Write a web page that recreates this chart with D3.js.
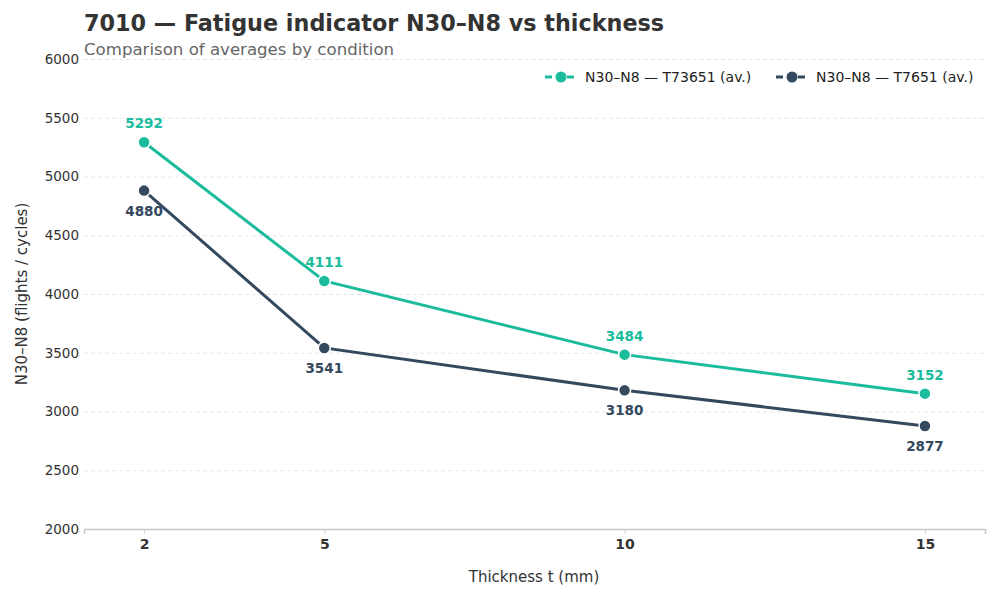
<!DOCTYPE html>
<html lang="en">
<head>
<meta charset="utf-8">
<title>7010 fatigue indicator</title>
<script src="https://d3js.org/d3.v7.min.js"></script>
<style>
  body { margin: 0; background: #fff; }
  svg text { font-family: "DejaVu Sans", sans-serif; }
  .grid line { stroke: #e6e6e6; stroke-dasharray: 4,3; }
  .grid .domain { display: none; }
  .yax text { font-size: 13.5px; fill: #333; }
  .xax text { font-size: 14px; font-weight: bold; fill: #333; }
  .line { fill: none; stroke-width: 3px; }
  .val { font-size: 13.5px; font-weight: bold; text-anchor: middle; }
  .legT { font-size: 14px; fill: #222; }
</style>
</head>
<body>
<div id="chart"></div>
<script>
var thickness = [2, 5, 10, 15];
var serieA = [5292, 4111, 3484, 3152];   // T73651
var serieB = [4880, 3541, 3180, 2877];   // T7651
var seriesNames = ['N30–N8 — T73651 (av.)', 'N30–N8 — T7651 (av.)'];
var yTicks = [2000, 2500, 3000, 3500, 4000, 4500, 5000, 5500, 6000];
var colors = ['#1abc9c', '#34495e'];

var W = 1000, H = 600;
var svg = d3.select('#chart').append('svg').attr('width', W).attr('height', H);

var x = d3.scaleLinear().domain([1, 16]).range([84, 985]);
var y = d3.scaleLinear().domain([2000, 6000]).range([529, 59]);

// grid
svg.append('g').attr('class', 'grid')
   .attr('transform', 'translate(84,0)')
   .call(d3.axisLeft(y).tickValues(yTicks).tickSize(-901).tickFormat(''));

// y axis labels
var ya = svg.append('g').attr('class', 'yax')
   .attr('transform', 'translate(84,0)')
   .call(d3.axisLeft(y).tickValues(yTicks).tickSize(0).tickPadding(5).tickFormat(d3.format('d')));
ya.select('.domain').remove();

// x axis
var xa = svg.append('g').attr('class', 'xax')
   .attr('transform', 'translate(0,529)')
   .call(d3.axisBottom(x).tickValues(thickness).tickSize(5).tickPadding(5).tickFormat(d3.format('d')));
xa.select('.domain').attr('stroke', '#c8c8c8').attr('stroke-width', 1.5);
xa.selectAll('.tick line').attr('stroke', '#d0d0d0');

// titles
svg.append('text').attr('x', 84).attr('y', 31)
   .attr('font-size', '22.3px').attr('font-weight', 'bold').attr('fill', '#333')
   .text('7010 — Fatigue indicator N30–N8 vs thickness');
svg.append('text').attr('x', 84).attr('y', 55)
   .attr('font-size', '16.6px').attr('fill', '#666')
   .text('Comparison of averages by condition');
svg.append('text').attr('x', 534).attr('y', 582)
   .attr('text-anchor', 'middle').attr('font-size', '15px').attr('fill', '#333')
   .text('Thickness t (mm)');
svg.append('text')
   .attr('transform', 'translate(27,294) rotate(-90)')
   .attr('text-anchor', 'middle').attr('font-size', '15px').attr('fill', '#333')
   .text('N30–N8 (flights / cycles)');

var all = [serieA, serieB];
var line = d3.line().x(function(d, i){ return x(thickness[i]); }).y(function(d){ return y(d); });

all.forEach(function(s, k){
  svg.append('path').attr('class', 'line').attr('stroke', colors[k]).attr('d', line(s));
});
all.forEach(function(s, k){
  svg.selectAll('.pt' + k).data(s).enter().append('circle')
     .attr('cx', function(d, i){ return x(thickness[i]); })
     .attr('cy', function(d){ return y(d); })
     .attr('r', 6).attr('fill', colors[k]).attr('stroke', '#fff').attr('stroke-width', 1.5);
  svg.selectAll('.val' + k).data(s).enter().append('text')
     .attr('class', 'val').attr('fill', colors[k])
     .attr('x', function(d, i){ return x(thickness[i]); })
     .attr('y', function(d){ return k === 0 ? y(d) - 14 : y(d) + 25; })
     .text(function(d){ return d; });
});

// legend
var legX = [545, 776];
seriesNames.forEach(function(n, k){
  var g = svg.append('g').attr('transform', 'translate(' + legX[k] + ',77)');
  g.append('line').attr('x1', 0).attr('x2', 32).attr('y1', 0).attr('y2', 0)
   .attr('stroke', colors[k]).attr('stroke-width', 3).attr('stroke-dasharray', '7,4');
  g.append('circle').attr('cx', 16).attr('cy', 0).attr('r', 5.5).attr('fill', colors[k]);
  g.append('text').attr('class', 'legT').attr('x', 40).attr('y', 5).text(n);
});
</script>
</body>
</html>
